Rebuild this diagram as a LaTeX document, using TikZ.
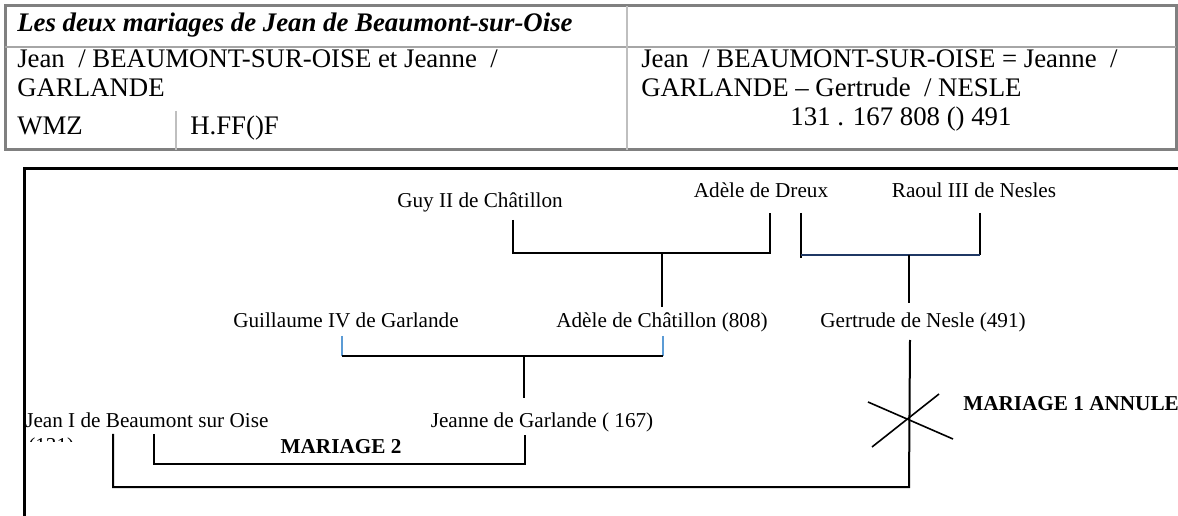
\documentclass[tikz,border=0pt]{standalone}
\usepackage{fontspec}
\setmainfont{Liberation Serif}
\usepackage{tikz}
\usetikzlibrary{positioning}
\usetikzlibrary{calc}

\definecolor{tableGray}{HTML}{808080}
\definecolor{cellGray}{HTML}{BFBFBF}
\definecolor{legBlue}{HTML}{5B9BD5}
\definecolor{navyLine}{HTML}{1F3864}

\begin{document}
\begin{tikzpicture}[
	x=0.75pt, y=-0.75pt,
	person/.style={inner sep=0pt, anchor=base, font=\fontsize{15.9}{19}\selectfont},
	marriage/.style={inner sep=0pt, anchor=base, font=\fontsize{15.9}{19}\selectfont\bfseries},
	banner/.style={inner sep=0pt, anchor=base west, font=\fontsize{20.1}{24}\selectfont},
	kin/.style={line width=1.5pt},
	blueLeg/.style={legBlue, line width=1.1pt}
]
\useasboundingbox (0,0) rectangle (1178,516);
\clip (0,0) rectangle (1178,516);

% --- table
\draw[tableGray, line width=2.25pt] (5,6) rectangle (1176,150);
\draw[tableGray!70, line width=1.5pt] (5,47) -- (1176,47);
\draw[cellGray, line width=1.1pt] (627,6) -- (627,150);
\draw[cellGray, line width=1.1pt] (176,111) -- (176,150);

\node[banner, font=\fontsize{20.1}{24}\selectfont\bfseries\itshape] (tableTitle) at (17,32) {Les deux mariages de Jean de Beaumont-sur-Oise};
\node[banner] (leftLineA) at (17,68) {Jean~ / BEAUMONT-SUR-OISE et Jeanne~ /};
\node[banner] (leftLineB) at (17,97) {GARLANDE};
\node[banner] (codeKey) at (17,135) {WMZ};
\node[banner] (codeValue) at (190,135) {H.FF()F};
\node[banner] (rightLineA) at (641,68) {Jean~ / BEAUMONT-SUR-OISE = Jeanne~ /};
\node[banner] (rightLineB) at (641,97) {GARLANDE – Gertrude~ / NESLE};
\node[banner, anchor=base] (rightLineC) at (901,126) {131 . 167 808 () 491};

% --- frame
\coordinate (frameCorner) at (24,169);
\draw[line width=2.25pt] (24,530) -- (frameCorner) -- (1190,169);

% --- people
\node[person] (guy) at (480,208) {Guy II de Châtillon};
\node[person] (dreux) at (761,198) {Adèle de Dreux};
\node[person] (raoul) at (974,198) {Raoul III de Nesles};
\node[person] (guillaume) at (346,328) {Guillaume IV de Garlande};
\node[person] (adeleC) at (662,328) {Adèle de Châtillon (808)};
\node[person] (gertrude) at (923,328) {Gertrude de Nesle (491)};
\node[person, anchor=base west] (jean) at (25,428) {Jean I de Beaumont sur Oise};
\node[person] (jeanne) at (542,428) {Jeanne de Garlande ( 167)};
\begin{scope}
\clip (26,430) rectangle (120,441.5);
\node[person, anchor=base west] (jeanNum) at (28,452) {(131)};
\end{scope}
\node[marriage] (mariageTwo) at (341,454) {MARIAGE 2};
\node[marriage, anchor=base west] (mariageOne) at (963,411) {MARIAGE 1 ANNULE};

% --- Guy II + Adele de Dreux
\coordinate (guyLeg) at (513,220);
\coordinate (dreuxLeg) at (770,213);
\coordinate (guyDreux) at (662,253);
\coordinate (adeleTop) at (662,307);
\draw[kin] (guyLeg) |- (guyDreux) -| (dreuxLeg);
\draw[kin] (guyDreux) -- (adeleTop);

% --- Adele de Dreux + Raoul III
\coordinate (dreuxLegB) at (801,213);
\coordinate (dreuxFoot) at (801,258);
\coordinate (raoulLeg) at (980,213);
\coordinate (raoulFoot) at (980,255);
\coordinate (dreuxRaoul) at (909,255);
\coordinate (gertrudeTop) at (909,303);
\draw[kin] (dreuxLegB) -- (dreuxFoot);
\draw[kin] (raoulLeg) -- (raoulFoot);
\draw[kin, navyLine] (dreuxLegB |- dreuxRaoul) -- (raoulFoot);
\draw[kin] (dreuxRaoul) -- (gertrudeTop);

% --- Guillaume IV + Adele de Chatillon
\coordinate (guillaumeLeg) at (342,336);
\coordinate (guillaumeFoot) at (342,356);
\coordinate (adeleLeg) at (663,336);
\coordinate (adeleFoot) at (663,356);
\coordinate (guillaumeAdele) at (524,356);
\coordinate (jeanneTop) at (524,398);
\draw[blueLeg] (guillaumeLeg) -- (guillaumeFoot);
\draw[blueLeg] (adeleLeg) -- (adeleFoot);
\draw[kin] (guillaumeFoot) -- (adeleFoot);
\draw[kin] (guillaumeAdele) -- (jeanneTop);

% --- mariage 2
\coordinate (jeanLegB) at (154,434);
\coordinate (jeanneLeg) at (525,435);
\draw[kin] (jeanLegB) |- (525,464) -- (jeanneLeg);

% --- mariage 1
\coordinate (jeanLegA) at (113,434);
\coordinate (gertrudeLeg) at (910,340);
\draw[kin] (jeanLegA) |- (909,487) -- (gertrudeLeg);
\draw[line width=1.2pt] (868,402) -- (953,439);
\draw[line width=1.2pt] (872,447) -- (939,394);

\end{tikzpicture}
\end{document}
